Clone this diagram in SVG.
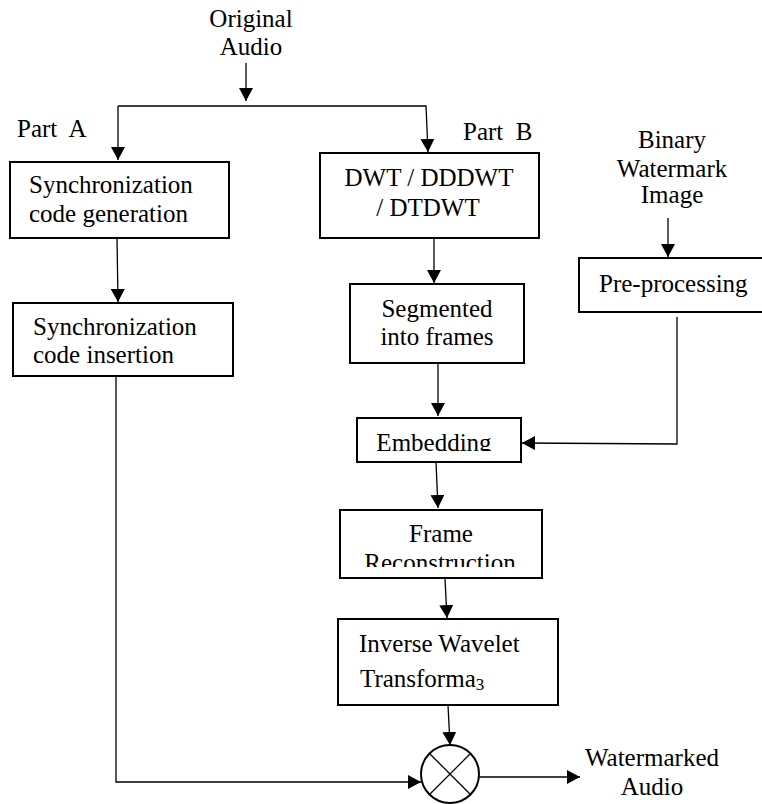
<svg xmlns="http://www.w3.org/2000/svg" width="762" height="804" viewBox="0 0 762 804" font-family="'Liberation Serif', Tinos, 'Times New Roman', 'DejaVu Serif', serif">
<style>
text{font-family:"Liberation Serif",Tinos,"Times New Roman","DejaVu Serif",serif;font-size:25px;fill:#000}
.box{fill:#fff;stroke:#000;stroke-width:2}
.c{fill:none;stroke:#000;stroke-width:1.3}
.m{text-anchor:middle}
.pre{white-space:pre}
</style>
<defs>
<marker id="ah" markerUnits="userSpaceOnUse" markerWidth="14" markerHeight="14" refX="13" refY="7" orient="auto">
<path d="M0,0 L13,7 L0,14 z" fill="#000"/>
</marker>
<clipPath id="clipEmb"><rect x="357" y="418" width="164" height="33"/></clipPath>
<clipPath id="clipRec"><rect x="340" y="510" width="202" height="57"/></clipPath>
</defs>
<rect width="762" height="804" fill="#fff"/>

<g id="labels">
<text x="251" y="27" class="m">Original</text>
<text x="251" y="55" class="m">Audio</text>
<text x="17" y="137" class="pre">Part  A</text>
<text x="463" y="140" class="pre">Part  B</text>
<text x="672" y="148" class="m">Binary</text>
<text x="672" y="177" class="m">Watermark</text>
<text x="672" y="203" class="m">Image</text>
<text x="652" y="766" class="m">Watermarked</text>
<text x="652" y="795" class="m">Audio</text>
</g>

<g id="connectors">
<path class="c" d="M246,63 L246,101" marker-end="url(#ah)"/>
<path class="c" d="M118,106 L426,106 L428,152" marker-end="url(#ah)"/>
<path class="c" d="M118,106 L118,160" marker-end="url(#ah)"/>
<path class="c" d="M117,238 L118,302" marker-end="url(#ah)"/>
<path class="c" d="M434,238 L434,283" marker-end="url(#ah)"/>
<path class="c" d="M668,218 L668,257" marker-end="url(#ah)"/>
<path class="c" d="M438,363 L438,416" marker-end="url(#ah)"/>
<path class="c" d="M677,317 L677,444 L522,443" marker-end="url(#ah)"/>
<path class="c" d="M436,462 L438,508" marker-end="url(#ah)"/>
<path class="c" d="M445,579 L447,618" marker-end="url(#ah)"/>
<path class="c" d="M448,705 L450,745" marker-end="url(#ah)"/>
<path class="c" d="M116,376 L116,782 L421,782" marker-end="url(#ah)"/>
<path class="c" d="M479,777 L580,777" marker-end="url(#ah)"/>
</g>

<g id="sync-gen">
<rect class="box" x="10" y="162" width="219" height="76"/>
<text x="29" y="193">Synchronization</text>
<text x="29" y="222">code generation</text>
</g>

<g id="sync-ins">
<rect class="box" x="13" y="303" width="220" height="73"/>
<text x="33" y="335">Synchronization</text>
<text x="33" y="363">code insertion</text>
</g>

<g id="dwt">
<rect class="box" x="320" y="153" width="219" height="85"/>
<text x="429" y="186" class="m">DWT / DDDWT</text>
<text x="428" y="216" class="m">/ DTDWT</text>
</g>

<g id="segmented">
<rect class="box" x="350" y="284" width="174" height="79"/>
<text x="437" y="317" class="m">Segmented</text>
<text x="437" y="345" class="m">into frames</text>
</g>

<g id="preprocessing">
<rect class="box" x="579" y="258" width="186" height="54"/>
<text x="599" y="292">Pre-processing</text>
</g>

<g id="embedding">
<rect class="box" x="357" y="418" width="164" height="44"/>
<text x="434" y="451" class="m" clip-path="url(#clipEmb)">Embedding</text>
</g>

<g id="frame-reconstruction">
<rect class="box" x="340" y="510" width="202" height="68"/>
<text x="441" y="542" class="m">Frame</text>
<text x="440" y="571" class="m" clip-path="url(#clipRec)">Reconstruction</text>
</g>

<g id="inverse-wavelet">
<rect class="box" x="338" y="619" width="220" height="86"/>
<text x="359" y="652">Inverse Wavelet</text>
<text x="360" y="687">Transforma<tspan font-size="17" dy="3">3</tspan></text>
</g>

<g id="multiplier">
<circle cx="450" cy="774" r="29" fill="#fff" stroke="#000" stroke-width="2"/>
<path class="c" d="M429.5,753.5 L470.5,794.5 M470.5,753.5 L429.5,794.5"/>
</g>
</svg>
